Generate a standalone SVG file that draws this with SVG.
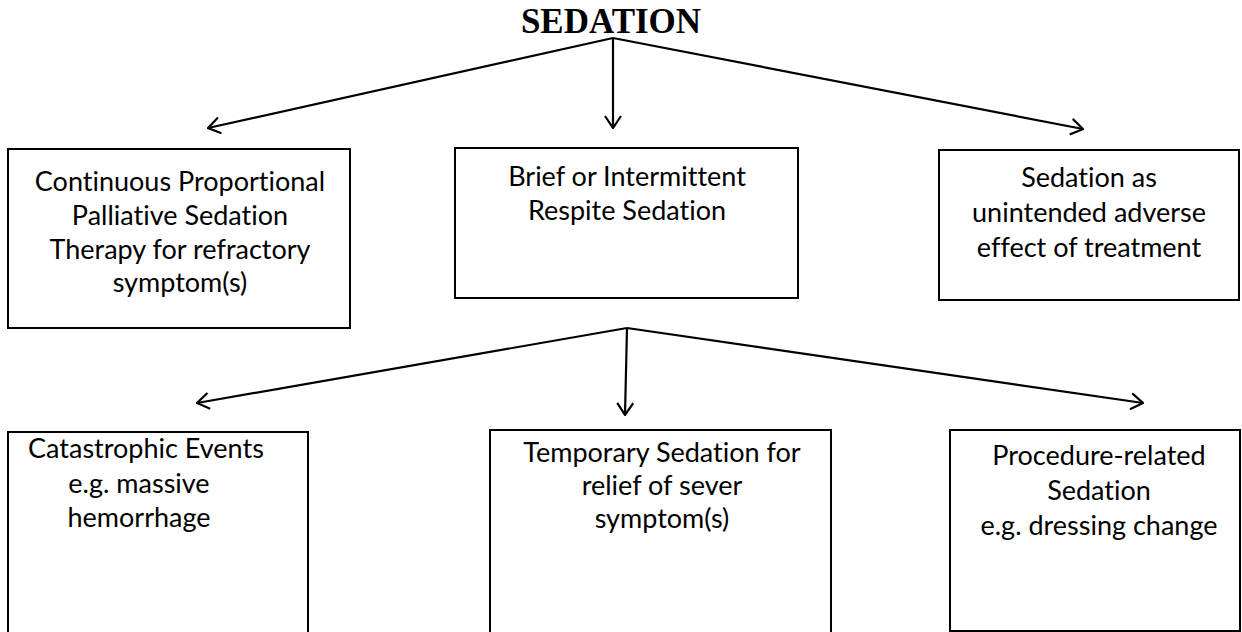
<svg xmlns="http://www.w3.org/2000/svg" width="1242" height="632" viewBox="0 0 1242 632">
<style>
.box{fill:#fff;stroke:#000;stroke-width:2}
.t{font-family:Lato,"Liberation Sans",sans-serif;font-size:27px;fill:#000;text-anchor:middle;font-variant-ligatures:none;font-feature-settings:"liga" 0}
.c{fill:none;stroke:#000;stroke-width:2.2}
.title{font-family:"Liberation Serif",serif;font-weight:bold;font-size:35px;text-anchor:middle;fill:#000}
</style>
<defs>
<marker id="arr" viewBox="0 0 14 18" refX="13" refY="9" markerWidth="14" markerHeight="18" markerUnits="userSpaceOnUse" orient="auto">
<path d="M1,1 L13,9 L1,17" fill="none" stroke="#000" stroke-width="2.2"/>
</marker>
</defs>
<rect width="1242" height="632" fill="#fff"/>
<g id="title"><text class="title" x="611" y="33">SEDATION</text></g>
<g id="connectors">
<line class="c" x1="613" y1="38" x2="208" y2="128" marker-end="url(#arr)"/>
<line class="c" x1="613" y1="38" x2="613" y2="128" marker-end="url(#arr)"/>
<line class="c" x1="613" y1="38" x2="1083" y2="129" marker-end="url(#arr)"/>
<line class="c" x1="627" y1="328" x2="197" y2="403" marker-end="url(#arr)"/>
<line class="c" x1="627" y1="328" x2="625" y2="415" marker-end="url(#arr)"/>
<line class="c" x1="627" y1="328" x2="1143" y2="403" marker-end="url(#arr)"/>
</g>
<g id="n1">
<rect class="box" x="8" y="149" width="342" height="179"/>
<text class="t" x="180" y="191">Continuous Proportional</text>
<text class="t" x="180" y="225">Palliative Sedation</text>
<text class="t" x="180" y="259">Therapy for refractory</text>
<text class="t" x="180" y="292">symptom(s)</text>
</g>
<g id="n2">
<rect class="box" x="455" y="148" width="343" height="150"/>
<text class="t" x="627" y="186">Brief or Intermittent</text>
<text class="t" x="627" y="220">Respite Sedation</text>
</g>
<g id="n3">
<rect class="box" x="939" y="150" width="300" height="150"/>
<text class="t" x="1089" y="187">Sedation as</text>
<text class="t" x="1089" y="222">unintended adverse</text>
<text class="t" x="1089" y="257">effect of treatment</text>
</g>
<g id="n4">
<path class="box" d="M8,640 L8,432 L308,432 L308,640"/>
<text class="t" x="28" y="458" style="text-anchor:start">Catastrophic Events</text>
<text class="t" x="139" y="493">e.g. massive</text>
<text class="t" x="139" y="527">hemorrhage</text>
</g>
<g id="n5">
<path class="box" d="M490,640 L490,430 L831,430 L831,640"/>
<text class="t" x="662" y="462">Temporary Sedation for</text>
<text class="t" x="662" y="495">relief of sever</text>
<text class="t" x="662" y="528">symptom(s)</text>
</g>
<g id="n6">
<rect class="box" x="950" y="430" width="290" height="201"/>
<text class="t" x="1099" y="465">Procedure-related</text>
<text class="t" x="1099" y="500">Sedation</text>
<text class="t" x="1099" y="535">e.g. dressing change</text>
</g>
</svg>
